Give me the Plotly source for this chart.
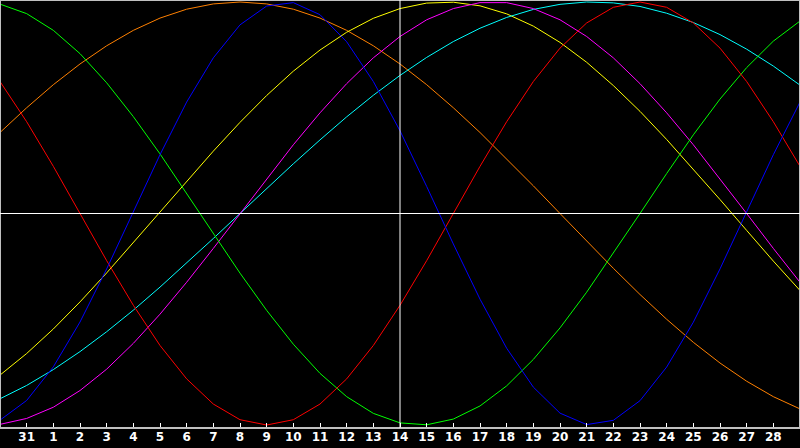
import plotly.graph_objects as go

# Day positions (0 = the 30th of the previous month, 30 = the 29th)
day_offsets = list(range(31))
tick_positions = list(range(1, 30))
tick_labels = ["31"] + [str(d) for d in range(1, 29)]
today_offset = 15

# Cycle values, one per day
physical_blue = [-0.977, -0.884, -0.725, -0.513, -0.262, 0.008, 0.278, 0.527, 0.736, 0.892,
                 0.981, 0.997, 0.940, 0.812, 0.624, 0.391, 0.128, -0.144, -0.405, -0.637,
                 -0.821, -0.944, -0.998, -0.978, -0.885, -0.726, -0.514, -0.262, 0.008, 0.278, 0.527]
emotional_red = [0.624, 0.434, 0.223, 0.0, -0.223, -0.434, -0.624, -0.782, -0.901, -0.975,
                 -1.0, -0.975, -0.901, -0.782, -0.624, -0.434, -0.223, 0.0, 0.223, 0.434,
                 0.624, 0.782, 0.901, 0.975, 1.0, 0.975, 0.901, 0.782, 0.624, 0.434, 0.223]
intellectual_green = [0.990, 0.945, 0.866, 0.756, 0.618, 0.458, 0.282, 0.095, -0.095, -0.282,
                      -0.458, -0.618, -0.756, -0.866, -0.945, -0.990, -0.999, -0.972, -0.910, -0.815,
                      -0.690, -0.541, -0.372, -0.189, 0.0, 0.189, 0.372, 0.541, 0.690, 0.815, 0.910]
intuitive_magenta = [-0.997, -0.969, -0.916, -0.837, -0.736, -0.614, -0.476, -0.325, -0.165, 0.0,
                     0.165, 0.325, 0.476, 0.614, 0.736, 0.837, 0.916, 0.969, 0.997, 0.997,
                     0.969, 0.916, 0.837, 0.736, 0.614, 0.476, 0.325, 0.165, 0.0, -0.165, -0.325]
aesthetic_yellow = [-0.764, -0.662, -0.546, -0.418, -0.281, -0.138, 0.007, 0.153, 0.295, 0.431,
                    0.558, 0.673, 0.773, 0.857, 0.923, 0.969, 0.995, 0.999, 0.982, 0.944,
                    0.886, 0.809, 0.715, 0.605, 0.483, 0.350, 0.210, 0.066, -0.080, -0.225, -0.364]
awareness_orange = [0.383, 0.500, 0.609, 0.707, 0.793, 0.866, 0.924, 0.966, 0.991, 1.0,
                    0.991, 0.966, 0.924, 0.866, 0.793, 0.707, 0.609, 0.500, 0.383, 0.259,
                    0.131, 0.0, -0.131, -0.259, -0.383, -0.500, -0.609, -0.707, -0.793, -0.866, -0.924]
spiritual_cyan = [-0.876, -0.813, -0.738, -0.653, -0.559, -0.457, -0.348, -0.235, -0.118, 0.0,
                  0.118, 0.235, 0.348, 0.457, 0.559, 0.653, 0.738, 0.813, 0.876, 0.927,
                  0.965, 0.989, 1.0, 0.996, 0.979, 0.947, 0.903, 0.846, 0.777, 0.697, 0.607]

series = [
    ("Awareness", awareness_orange, "#FF8000"),
    ("Aesthetic", aesthetic_yellow, "#FFFF00"),
    ("Spiritual", spiritual_cyan, "#00FFFF"),
    ("Intuitive", intuitive_magenta, "#FF00FF"),
    ("Intellectual", intellectual_green, "#00FF00"),
    ("Emotional", emotional_red, "#FF0000"),
    ("Physical", physical_blue, "#0000FF"),
]

fig = go.Figure()
for name, vals, color in series:
    fig.add_trace(go.Scatter(x=day_offsets, y=vals, mode="lines", name=name,
                             line=dict(color=color, width=1), hoverinfo="skip"))

fig.update_layout(
    width=800, height=448,
    margin=dict(l=0, r=0, t=0, b=20),
    paper_bgcolor="black", plot_bgcolor="black",
    showlegend=False,
    xaxis=dict(range=[0, 30], tickvals=tick_positions, ticktext=tick_labels,
               ticks="inside", ticklen=5, tickwidth=1, tickcolor="white",
               showgrid=False, zeroline=False, showline=False,
               tickfont=dict(family="DejaVu Sans", size=12, color="white", weight="bold"),
               fixedrange=True),
    yaxis=dict(range=[-1.0142, 1.0095], showgrid=False, zeroline=False,
               showticklabels=False, ticks="", showline=False, fixedrange=True),
    shapes=[
        dict(type="rect", xref="paper", yref="paper", x0=0, x1=1, y0=0, y1=1,
             line=dict(color="#C0C0C0", width=2), layer="above"),
        dict(type="line", xref="paper", yref="y", x0=0, x1=1, y0=0, y1=0,
             line=dict(color="white", width=1), layer="above"),
        dict(type="line", xref="x", yref="paper", x0=today_offset, x1=today_offset, y0=0, y1=1,
             line=dict(color="white", width=1), layer="above"),
    ],
)

fig.write_html(
    "out.html",
    config={"displayModeBar": False},
    post_script="document.body.style.margin='0';document.body.style.background='black';",
)
